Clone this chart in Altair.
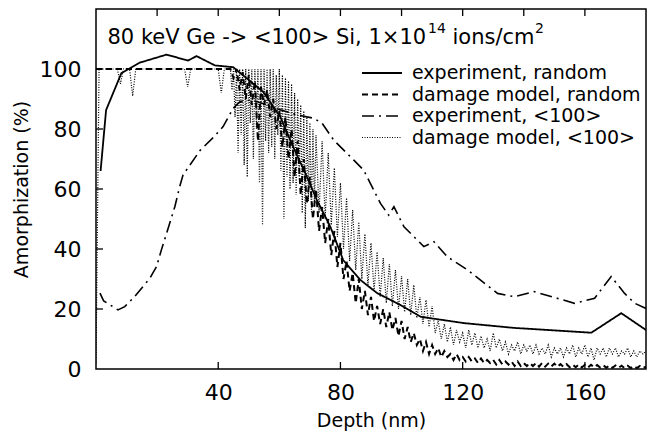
import altair as alt
import pandas as pd

FONT = "DejaVu Sans"

# ---------------- data ----------------
exp_rand_depth = [1.5, 3.3, 8.3, 14.3, 23.1, 30.1, 32.9, 38.9, 44.9, 54.7, 60.3, 64.5, 68.5,
                  72.3, 76.7, 80.9, 86.5, 92.0, 99.7, 106.3, 120.4, 136.8, 162.1, 171.9, 180.0]
exp_rand_amorph = [66.0, 86.3, 98.6, 102.1, 104.8, 102.8, 104.3, 101.2, 100.6, 92.4, 84.1, 74.1, 65.3,
                   56.3, 47.4, 36.3, 29.7, 25.3, 21.3, 17.4, 15.3, 13.7, 12.1, 18.6, 13.0]

exp_100_depth = [1.3, 2.5, 7.2, 9.4, 12.6, 17.6, 19.8, 21.4, 23.1, 25.8, 27.4, 28.5, 34.0, 38.4,
                 41.6, 44.9, 47.1, 51.0, 56.0, 60.0, 65.7, 71.2, 74.0, 77.8, 84.3, 87.6, 93.1,
                 95.8, 97.5, 100.8, 107.3, 110.6, 115.0, 121.6, 131.4, 136.9, 143.4, 156.6, 163.2,
                 168.6, 173.0, 176.3, 180.0]
exp_100_amorph = [25.3, 22.7, 19.7, 20.8, 24.1, 30.2, 34.1, 39.7, 45.2, 54.1, 60.8, 64.7, 72.8, 77.2,
                  80.8, 86.9, 89.1, 89.7, 88.0, 86.5, 84.7, 83.6, 81.9, 76.3, 69.7, 66.3, 55.2,
                  51.3, 54.1, 47.4, 40.8, 42.4, 37.4, 33.0, 25.2, 24.1, 25.8, 21.9, 23.6,
                  30.8, 25.2, 21.9, 20.2]

# damage model, random: 1 nm grid 0..180
model_rand_depth = list(range(0, 181))
model_rand_amorph = (
    [100] * 45 +                                                            # 0-44
    [97, 100, 93, 99, 90, 98, 88, 96, 76, 94, 88, 93, 84, 90, 80,          # 45-59
     86, 74, 84, 70, 80, 64, 76, 58, 70, 55, 64, 50, 60, 46, 54,           # 60-74
     42, 50, 38, 46, 34, 42, 30, 36, 26, 32, 22, 30, 20, 26, 18,           # 75-89
     24, 16, 21, 15, 20, 14, 19, 13, 17, 11, 16, 10, 14, 9, 12,            # 90-104
     8, 10, 6, 9, 5, 8, 5, 7, 4, 6, 4, 5, 3, 5, 3,                         # 105-119
     4, 2.5, 4, 2.5, 3.5, 2, 3.5, 2, 3, 2, 3, 1.5, 3, 1.5, 2.5,            # 120-134
     1.5, 2.5, 1, 2.5, 1, 2, 1, 2, 1, 2, 0.8, 2, 0.8, 1.8, 0.8,            # 135-149
     1.8, 0.7, 1.6, 0.7, 1.6, 0.6, 1.5, 0.6, 1.5, 0.5, 1.4, 0.5, 1.4, 0.5, 1.3,  # 150-164
     0.5, 1.3, 0.4, 1.2, 0.4, 1.2, 0.4, 1.1, 0.3, 1.1, 0.3, 1.0, 0.3, 1.0, 0.3,  # 165-179
     0.8]                                                                   # 180
)

# damage model, <100>: 1 nm grid 0..43, 0.5 nm grid 44..72, 1 nm grid 73..180
model_100_depth = (list(range(0, 44)) + [44 + 0.5 * i for i in range(57)] + list(range(73, 181)))
model_100_amorph = (
    [2] + [100] * 7 + [95] + [100] * 3 + [91] + [100] * 17 + [94] + [100] * 10 + [92] + [100] * 2 +  # 0-43
    [100, 93, 100, 84, 100, 72, 100, 78, 100, 68,                           # 44.0-48.5
     100, 64, 100, 82, 100, 70, 100, 80, 100, 62,                           # 49.0-53.5
     100, 48, 100, 76, 100, 72, 100, 74, 100, 70,                           # 54.0-58.5
     98, 78, 100, 66, 98, 50, 97, 64, 96, 60,                               # 59.0-63.5
     95, 62, 92, 58, 90, 64, 88, 52, 86, 47,                                # 64.0-68.5
     84, 56, 82, 52, 80, 54, 78] +                                          # 69.0-72.0
    [52, 76,                                                                # 73-74
     50, 72, 48, 67, 44, 62, 40, 57, 36, 53, 33, 49, 30, 45, 28,           # 75-89
     42, 26, 39, 24, 37, 22, 35, 21, 33, 20, 31, 19, 30, 18, 28,           # 90-104
     17, 24, 15, 23, 14, 21, 12, 16, 10, 15, 9, 14, 8, 13, 9,              # 105-119
     12, 7, 13, 8, 12, 7, 11, 7, 10, 6, 12, 7, 10, 6, 9,                   # 120-134
     5, 8, 6, 9, 5, 8, 6, 8, 5, 8, 5, 7, 5, 8, 4,                          # 135-149
     7, 5, 7, 4, 7, 5, 8, 4, 7, 5, 8, 4, 7, 3, 7,                          # 150-164
     5, 7, 4, 7, 5, 7, 4, 6, 5, 7, 4, 6, 4, 6, 5,                          # 165-179
     6]                                                                    # 180
)

series_names = ["experiment, random", "damage model, random",
                "experiment, <100>", "damage model, <100>"]

x_ticks_bottom = [40, 80, 120, 160]
x_ticks_top = [20, 40, 60, 80, 100, 120, 140, 160]
y_ticks = [20, 40, 60, 80, 100]
y_labels = [0, 20, 40, 60, 80, 100]

title_main = "80 keV Ge -> <100> Si, 1\u00d710"
title_exp1 = "14"
title_mid = "ions/cm"
title_exp2 = "2"

# ---------------- chart ----------------
W, H = 550, 360
X_DOMAIN = [0, 180]
Y_DOMAIN = [0, 120]

xs = alt.Scale(domain=X_DOMAIN, nice=False, zero=False)
ys = alt.Scale(domain=Y_DOMAIN, nice=False)

x_axis = alt.Axis(values=x_ticks_bottom, title="Depth (nm)", grid=False, ticks=False,
                  domain=False, labelFont=FONT, labelFontSize=22, labelColor="black",
                  labelPadding=13, titleFont=FONT, titleFontSize=19, titleFontWeight="normal",
                  titleColor="black", titlePadding=8)
y_axis = alt.Axis(values=y_labels, title="Amorphization (%)", grid=False, ticks=False,
                  domain=False, labelFont=FONT, labelFontSize=22, labelColor="black",
                  labelPadding=15, titleFont=FONT, titleFontSize=19, titleFontWeight="normal",
                  titleColor="black", titlePadding=8)

df_er = pd.DataFrame({"depth": exp_rand_depth, "amorph": exp_rand_amorph})
df_e1 = pd.DataFrame({"depth": exp_100_depth, "amorph": exp_100_amorph})
df_mr = pd.DataFrame({"depth": model_rand_depth, "amorph": model_rand_amorph})
df_m1 = pd.DataFrame({"depth": model_100_depth, "amorph": model_100_amorph})

DASHES = {
    series_names[0]: [1, 0],
    series_names[1]: [6, 4],
    series_names[2]: [12, 5, 2, 5],
    series_names[3]: [1, 1.5],
}
WIDTHS = {
    series_names[0]: 1.8,
    series_names[1]: 2.0,
    series_names[2]: 1.6,
    series_names[3]: 1.2,
}


def line_layer(df, name):
    return alt.Chart(df).mark_line(
        color="black", strokeWidth=WIDTHS[name], strokeDash=DASHES[name], clip=True
    ).encode(x=alt.X("depth:Q", scale=xs, axis=x_axis),
             y=alt.Y("amorph:Q", scale=ys, axis=y_axis))


l_m1 = line_layer(df_m1, series_names[3])
l_mr = line_layer(df_mr, series_names[1])
l_e1 = line_layer(df_e1, series_names[2])
l_er = line_layer(df_er, series_names[0])

TL = 7
t_bottom = alt.Chart(pd.DataFrame({"depth": x_ticks_bottom})).mark_rule(color="black", strokeWidth=1.3).encode(
    x=alt.X("depth:Q", scale=xs, axis=x_axis), y=alt.value(H), y2=alt.value(H - TL))
t_top = alt.Chart(pd.DataFrame({"depth": x_ticks_top})).mark_rule(color="black", strokeWidth=1.3).encode(
    x=alt.X("depth:Q", scale=xs, axis=x_axis), y=alt.value(0), y2=alt.value(TL))
t_left = alt.Chart(pd.DataFrame({"amorph": y_ticks})).mark_rule(color="black", strokeWidth=1.3).encode(
    y=alt.Y("amorph:Q", scale=ys, axis=y_axis), x=alt.value(0), x2=alt.value(TL))

# legend (drawn by hand, inside the plot)
LX0, LX1, LTX = 266, 306, 316
LY = [64, 85.5, 107, 128.5]
legend_layers = []
for i, name in enumerate(series_names):
    legend_layers.append(
        alt.Chart(pd.DataFrame({"s": [name]})).mark_rule(
            color="black", strokeWidth=WIDTHS[name], strokeDash=DASHES[name]
        ).encode(x=alt.value(LX0), x2=alt.value(LX1), y=alt.value(LY[i]))
    )
    legend_layers.append(
        alt.Chart(pd.DataFrame({"s": [name]})).mark_text(
            font=FONT, fontSize=19, align="left", baseline="middle", color="black"
        ).encode(text="s:N", x=alt.value(LTX), y=alt.value(LY[i]))
    )


def txt(s, x, y, size):
    return alt.Chart(pd.DataFrame({"s": [s]})).mark_text(
        font=FONT, fontSize=size, align="left", baseline="alphabetic", color="black"
    ).encode(text="s:N", x=alt.value(x), y=alt.value(y))


title_layers = [
    txt(title_main, 11.5, 35, 21),
    txt(title_exp1, 332, 23.5, 14),
    txt(title_mid, 356.5, 35, 21),
    txt(title_exp2, 439, 23.5, 14),
]

chart = alt.layer(
    l_m1, l_mr, l_e1, l_er, t_bottom, t_top, t_left, *legend_layers, *title_layers
).properties(
    width=W, height=H,
    autosize=alt.AutoSizeParams(type="none"),
    padding={"left": 96, "top": 9, "right": 17, "bottom": 67},
    background="white",
).configure_view(stroke="black", strokeWidth=1.5)

chart.save("out.html", embed_options={"renderer": "svg", "actions": False})
